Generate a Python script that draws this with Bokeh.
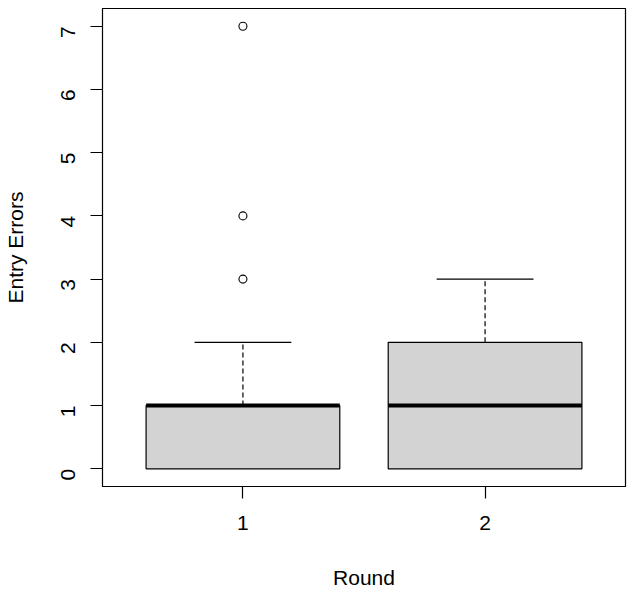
import math
from bokeh.plotting import figure
from bokeh.models import Range1d, FixedTicker, ColumnDataSource
from bokeh.embed import file_html
from bokeh.resources import INLINE

# data
rounds = [1, 2]
lower_whisker = [0, 0]
q1 = [0, 0]
median = [1, 1]
q3 = [1, 2]
upper_whisker = [2, 3]
outlier_round = [1, 1, 1]
outlier_value = [3, 4, 7]
x_tick_labels = {1: "1", 2: "2"}

box_width = 0.8
cap_half = 0.2

p = figure(width=630, height=591, output_backend="svg", toolbar_location=None,
           x_range=Range1d(0.42, 2.58), y_range=Range1d(-0.28, 7.28),
           min_border_left=101, min_border_right=5, min_border_top=8, min_border_bottom=105)
p.grid.visible = False
p.outline_line_color = "black"
p.outline_line_width = 1.2
p.background_fill_color = "white"
p.border_fill_color = "white"

src = ColumnDataSource(dict(x=rounds, lo=lower_whisker, q1=q1, med=median, q3=q3, hi=upper_whisker,
                            xl=[r - box_width / 2 for r in rounds], xr=[r + box_width / 2 for r in rounds],
                            cl=[r - cap_half for r in rounds], cr=[r + cap_half for r in rounds]))

# whiskers
p.segment(x0="x", y0="q3", x1="x", y1="hi", source=src, line_color="black", line_width=1.2, line_dash="5 3")
p.segment(x0="x", y0="lo", x1="x", y1="q1", source=src, line_color="black", line_width=1.2, line_dash="5 3")
# caps
p.segment(x0="cl", y0="hi", x1="cr", y1="hi", source=src, line_color="black", line_width=1.2)
# boxes
p.quad(left="xl", right="xr", bottom="q1", top="q3", source=src, fill_color="#d3d3d3",
       line_color="black", line_width=1.2)
# median
p.segment(x0="xl", y0="med", x1="xr", y1="med", source=src, line_color="black", line_width=4)
# outliers
p.scatter(x=outlier_round, y=outlier_value, marker="circle", size=8, fill_color=None,
          line_color="black", line_width=1.1)

font = "Liberation Sans"
for ax in (p.xaxis[0], p.yaxis[0]):
    ax.major_tick_in = 0
    ax.major_tick_out = 12
    ax.minor_tick_out = 0
    ax.minor_tick_in = 0
    ax.major_tick_line_color = "black"
    ax.major_tick_line_width = 1.2
    ax.axis_line_color = "black"
    ax.major_label_text_font = font
    ax.major_label_text_font_size = "21px"
    ax.major_label_text_color = "black"
    ax.axis_label_text_font = font
    ax.axis_label_text_font_size = "21px"
    ax.axis_label_text_font_style = "normal"
    ax.axis_label_text_color = "black"

p.xaxis.ticker = FixedTicker(ticks=rounds)
p.xaxis.major_label_overrides = x_tick_labels
p.xaxis.axis_label = "Round"
p.xaxis.major_label_standoff = 17
p.xaxis.axis_label_standoff = 33

p.yaxis.ticker = FixedTicker(ticks=list(range(0, 8)))
p.yaxis.major_label_orientation = math.pi / 2
p.yaxis.axis_label = "Entry Errors"
p.yaxis.major_label_standoff = 22
p.yaxis.axis_label_standoff = 25

open("out.html", "w").write(file_html(p, INLINE))
